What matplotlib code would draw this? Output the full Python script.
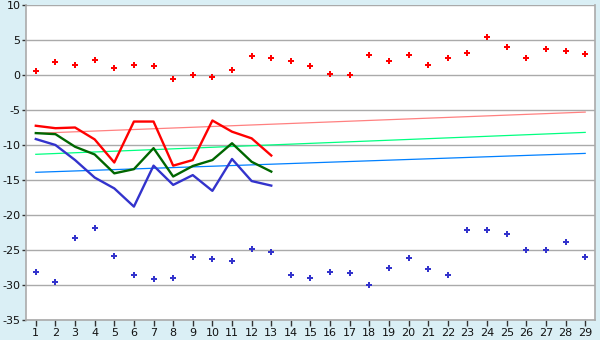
import matplotlib
matplotlib.use("Agg")
import matplotlib.pyplot as plt
import numpy as np

plt.rcParams['axes.unicode_minus'] = False
plt.rcParams['font.family'] = ['DejaVu Sans']

days = list(range(1, 30))
red_pts = [0.6, 1.9, 1.4, 2.1, 0.95, 1.5, 1.25, -0.6, -0.05, -0.3, 0.65, 2.65, 2.4,
           1.95, 1.25, 0.1, -0.05, 2.8, 1.95, 2.8, 1.4, 2.5, 3.1, 5.4, 3.95, 2.4, 3.65, 3.4, 2.95]
blue_pts = [-28.2, -29.5, -23.3, -21.9, -25.9, -28.6, -29.2, -29.05, -26.05, -26.3, -26.6, -24.8, -25.3,
            -28.5, -29.05, -28.2, -28.3, -30.05, -27.6, -26.2, -27.75, -28.6, -22.2, -22.2, -22.75,
            -25.05, -25.05, -23.9, -26.05]
line_days = list(range(1, 14))
red_line = [-7.25, -7.6, -7.5, -9.2, -12.5, -6.65, -6.65, -12.95, -12.15, -6.5, -8.1, -9.05, -11.5]
green_line = [-8.3, -8.45, -10.25, -11.35, -14.05, -13.45, -10.45, -14.5, -13.0, -12.15, -9.75, -12.4, -13.8]
blue_line = [-9.15, -10.0, -12.15, -14.65, -16.2, -18.8, -12.95, -15.7, -14.3, -16.55, -12.0, -15.15, -15.8]
trend_days = [1, 29]
trend_red = [-8.33, -5.3]
trend_green = [-11.33, -8.2]
trend_blue = [-13.9, -11.2]

fig = plt.figure(figsize=(6, 3.4), dpi=100)
fig.patch.set_facecolor('#daeff5')
ax = fig.add_axes([26/600, 1-320/340, (595-26)/600, (320-5)/340])
ax.set_facecolor('white')

ax.plot(trend_days, trend_red, color='#ff8080', lw=0.9, zorder=2)
ax.plot(trend_days, trend_green, color='#00ff80', lw=0.9, zorder=2)
ax.plot(trend_days, trend_blue, color='#0080ff', lw=0.9, zorder=2)

ax.plot(line_days, red_line, color='#ff0000', lw=1.7, zorder=3)
ax.plot(line_days, green_line, color='#006600', lw=1.7, zorder=3)
ax.plot(line_days, blue_line, color='#3333cc', lw=1.7, zorder=3)

ax.plot(days, red_pts, linestyle='none', marker='P', markersize=5, color='#ff0000', mec='#ff0000', mew=0, zorder=4)
ax.plot(days, blue_pts, linestyle='none', marker='P', markersize=5, color='#3333cc', mec='#3333cc', mew=0, zorder=4)

ax.set_xlim(0.5, 29.5)
ax.set_ylim(-35, 10)
ax.set_xticks(days)
ax.set_yticks(np.arange(-35, 11, 5))
ax.yaxis.grid(True, color='#aaaaaa', lw=1)
ax.set_axisbelow(True)
ax.spines['top'].set_visible(False)
for s in ['left', 'right', 'bottom']:
    ax.spines[s].set_color('#aaaaaa')
    ax.spines[s].set_linewidth(1.2)
ax.tick_params(axis='y', colors='#333333', labelsize=8, length=3, width=1, labelcolor='#111111', pad=1)
ax.tick_params(axis='x', colors='#333333', labelsize=8, length=4, width=1, labelcolor='#111111', pad=2)

fig.savefig('out.png', dpi=100, facecolor=fig.get_facecolor())
